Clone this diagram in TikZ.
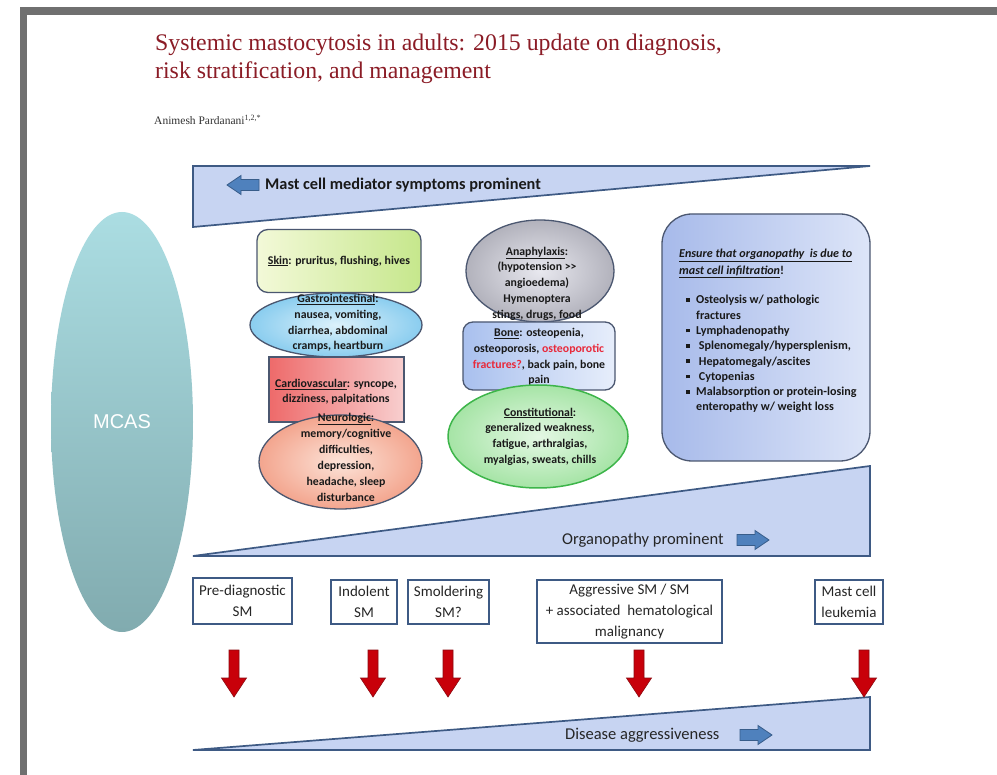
\documentclass[tikz,border=0pt]{standalone}
\usepackage{fontspec}
\setmainfont{Carlito}
\newfontfamily\ttlfont{Liberation Serif}
\newfontfamily\mcasfont{Liberation Sans}
\usetikzlibrary{shapes.geometric}
\definecolor{titlered}{HTML}{8B1C26}
\definecolor{framegray}{HTML}{707070}
\definecolor{wedgefill}{HTML}{C7D4F2}
\definecolor{wedgeline}{HTML}{3E5A84}
\definecolor{arrowblue}{HTML}{4F81BD}
\definecolor{arrowblueline}{HTML}{385D8A}
\definecolor{shapeline}{HTML}{4B5770}
\definecolor{mcastop}{HTML}{ABDDE2}
\definecolor{mcasbot}{HTML}{81ABAF}
\definecolor{arrowred}{HTML}{C8000A}
\definecolor{arrowredline}{HTML}{8C0A10}
\definecolor{bonered}{HTML}{E8293A}
\definecolor{constline}{HTML}{3DB54A}
\definecolor{skinL}{HTML}{F3F9D8}
\definecolor{skinR}{HTML}{C6E78C}
\definecolor{giIn}{HTML}{DCF1FB}
\definecolor{giOut}{HTML}{8ACDEF}
\definecolor{cardL}{HTML}{EE6A6A}
\definecolor{cardR}{HTML}{F8CFCF}
\definecolor{neuIn}{HTML}{FCE3D8}
\definecolor{neuOut}{HTML}{F3A58E}
\definecolor{anaIn}{HTML}{E8E8EF}
\definecolor{anaOut}{HTML}{B2B2BC}
\definecolor{boneL}{HTML}{A9C0EE}
\definecolor{boneR}{HTML}{E7EEFB}
\definecolor{conIn}{HTML}{E4F8E4}
\definecolor{conOut}{HTML}{A6E4A6}
\definecolor{rbL}{HTML}{A7BAEA}
\definecolor{rbR}{HTML}{DDE5F8}
\newcommand\rbul{\hspace*{7pt}\makebox[10pt][l]{\raisebox{2pt}{\rule{3.8pt}{3.8pt}}}}
\begin{document}
\begin{tikzpicture}[x=1pt,y=-1pt,
  wedge/.style={fill=wedgefill,draw=wedgeline,line width=1.7pt,line join=miter},
  stagebox/.style={draw=wedgeline,line width=1.3pt,fill=white,inner sep=0pt,align=center,text=black!85,font=\fontsize{15}{21}\selectfont},
  bubtext/.style={inner sep=0pt,align=center,text=black!90,font=\bfseries\fontsize{11.8}{15.7}\selectfont},
  outl/.style={draw=shapeline,line width=1.3pt},
  bandtext/.style={inner sep=0pt,anchor=west,text=black!85,font=\fontsize{16.5}{20}\selectfont},
  reddown/.pic={\draw[draw=arrowredline,fill=arrowred,line width=0.6pt,line join=miter]
     (-5,0) -- (5,0) -- (5,28) -- (12.5,28) -- (0,47) -- (-12.5,28) -- (-5,28) -- cycle;},
  blueright/.pic={\draw[draw=arrowblueline,fill=arrowblue,line width=0.8pt,line join=miter]
     (-16,-5.5) -- (2,-5.5) -- (2,-9.5) -- (16,0) -- (2,9.5) -- (2,5.5) -- (-16,5.5) -- cycle;},
  blueleft/.pic={\draw[draw=arrowblueline,fill=arrowblue,line width=0.8pt,line join=miter]
     (16,-5.5) -- (-2,-5.5) -- (-2,-9.5) -- (-16,0) -- (-2,9.5) -- (-2,5.5) -- (16,5.5) -- cycle;}]
\useasboundingbox (0,0) rectangle (997,775);
\fill[white] (0,0) rectangle (997,775);
% frame
\fill[framegray] (20,7) rectangle (997,15);
\fill[framegray] (20,7) rectangle (27,775);
% title
\node[anchor=base west,inner sep=0pt,text=titlered,font=\ttlfont\fontsize{23.8}{28}\selectfont] (ttl1) at (155,51) {Systemic mastocytosis in adults: 2015 update on diagnosis,};
\node[anchor=base west,inner sep=0pt,text=titlered,font=\ttlfont\fontsize{23.8}{28}\selectfont] (ttl2) at (155,79) {risk stratification, and management};
\node[anchor=base west,inner sep=0pt,text=black!80,font=\ttlfont\fontsize{11.5}{13}\selectfont] (auth) at (154,125) {Animesh Pardanani\textsuperscript{1,2,*}};
% MCAS
\node[ellipse,minimum width=142pt,minimum height=420pt,inner sep=0pt,top color=mcastop,bottom color=mcasbot] (mcas) at (122,422) {};
\node[text=white,font=\mcasfont\fontsize{20}{24}\selectfont] (mcaslbl) at (mcas.center) {MCAS};
% top wedge
\coordinate (twa) at (193,166);
\coordinate (twb) at (870,166);
\coordinate (twc) at (193,227);
\draw[wedge] (twa) -- (twb) -- (twc) -- cycle;
\pic (tarr) at (243,185) {blueleft};
\node[anchor=west,inner sep=0pt,text=black!90,font=\bfseries\fontsize{16.3}{20}\selectfont] (ttxt) at (265,185) {Mast cell mediator symptoms prominent};
% left column
\node[rectangle,rounded corners=11pt,outl,minimum width=164pt,minimum height=63pt,left color=skinL,right color=skinR] (skin) at (339,261) {};
\node[bubtext] (skintxt) at (skin.center) {\underline{Skin}: pruritus, flushing, hives};
\node[ellipse,outl,minimum width=172pt,minimum height=64pt,inner sep=0pt,inner color=giIn,outer color=giOut] (gi) at (336,325) {};
\node[bubtext] (gitxt) at (338,323) {\underline{Gastrointestinal}:\\nausea, vomiting,\\diarrhea, abdominal\\cramps, heartburn};
\node[rectangle,outl,minimum width=135pt,minimum height=65pt,left color=cardL,right color=cardR] (cardio) at (336.5,389.5) {};
\node[bubtext,font=\bfseries\fontsize{11.8}{15}\selectfont] (cardtxt) at (336,392) {\underline{Cardiovascular}: syncope,\\dizziness, palpitations};
\node[ellipse,outl,minimum width=163pt,minimum height=94pt,inner sep=0pt,inner color=neuIn,outer color=neuOut] (neuro) at (340.5,462) {};
\node[bubtext,font=\bfseries\fontsize{11.8}{16}\selectfont] (neutxt) at (346,457) {\underline{Neurologic}:\\memory/cognitive\\difficulties,\\depression,\\headache, sleep\\disturbance};
% middle column
\node[ellipse,outl,minimum width=148pt,minimum height=102pt,inner sep=0pt,inner color=anaIn,outer color=anaOut] (ana) at (540,271) {};
\node[bubtext] (anatxt) at (537,283.5) {\underline{Anaphylaxis}:\\(hypotension {>}{>}\\angioedema)\\Hymenoptera\\stings, drugs, food};
\node[rectangle,rounded corners=10pt,outl,minimum width=152pt,minimum height=68pt,left color=boneL,right color=boneR] (bone) at (539,356) {};
\node[bubtext,font=\bfseries\fontsize{11.8}{15.6}\selectfont] (bonetxt) at (539,357) {\underline{Bone}: osteopenia,\\osteoporosis, {\color{bonered}osteoporotic}\\{\color{bonered}fractures?}, back pain, bone\\pain};
\node[ellipse,draw=constline,line width=1.5pt,minimum width=180pt,minimum height=103pt,inner sep=0pt,inner color=conIn,outer color=conOut] (con) at (538,436.5) {};
\node[bubtext] (contxt) at (540,436.5) {\underline{Constitutional}:\\generalized weakness,\\fatigue, arthralgias,\\myalgias, sweats, chills};
% right box
\node[rectangle,rounded corners=30pt,outl,minimum width=208pt,minimum height=247pt,left color=rbL,right color=rbR] (rbox) at (766,337.5) {};
\node[anchor=north west,inner sep=0pt,align=left,text=black!90,font=\bfseries\fontsize{12.1}{15.3}\selectfont] (rtxt) at (679,249) {\textit{\underline{Ensure that organopathy\ \ is due to}}\\[1.3pt]
\textit{\underline{mast cell infiltration}}!\\[14.3pt]
\rbul Osteolysis w/ pathologic\\
\hspace*{17pt}fractures\\
\rbul Lymphadenopathy\\
\rbul\ Splenomegaly/hypersplenism,\\
\rbul\ Hepatomegaly/ascites\\
\rbul\ Cytopenias\\
\rbul Malabsorption or protein-losing\\
\hspace*{17pt}enteropathy w/ weight loss};
% organopathy wedge
\coordinate (owa) at (193,556);
\coordinate (owb) at (870,556);
\coordinate (owc) at (870,466);
\draw[wedge] (owa) -- (owb) -- (owc) -- cycle;
\node[bandtext] (otxt) at (562,540) {Organopathy prominent};
\pic (oarr) at (753,540) {blueright};
% stage boxes
\node[stagebox,minimum width=99pt,minimum height=46pt] (pre) at (242.5,601) {Pre-diagnostic\\SM};
\node[stagebox,minimum width=66pt,minimum height=44pt] (ind) at (364,602) {Indolent\\SM};
\node[stagebox,minimum width=81pt,minimum height=44pt] (smo) at (448.5,602) {Smoldering\\SM?};
\node[stagebox,minimum width=185pt,minimum height=63pt] (agg) at (629.5,611.5) {Aggressive SM / SM\\+ associated\ \ hematological\\malignancy};
\node[stagebox,minimum width=68pt,minimum height=44pt] (mcl) at (849,602) {Mast cell\\leukemia};
% bottom wedge
\coordinate (bwa) at (193,750);
\coordinate (bwb) at (870,750);
\coordinate (bwc) at (870,697);
\draw[wedge] (bwa) -- (bwb) -- (bwc) -- cycle;
\node[bandtext] (btxt) at (565,735) {Disease aggressiveness};
\pic (barr) at (756,735) {blueright};
% red arrows
\pic (ra1) at (234,650) {reddown};
\pic (ra2) at (373,650) {reddown};
\pic (ra3) at (448,650) {reddown};
\pic (ra4) at (639,650) {reddown};
\pic (ra5) at (864,650) {reddown};
\end{tikzpicture}
\end{document}
